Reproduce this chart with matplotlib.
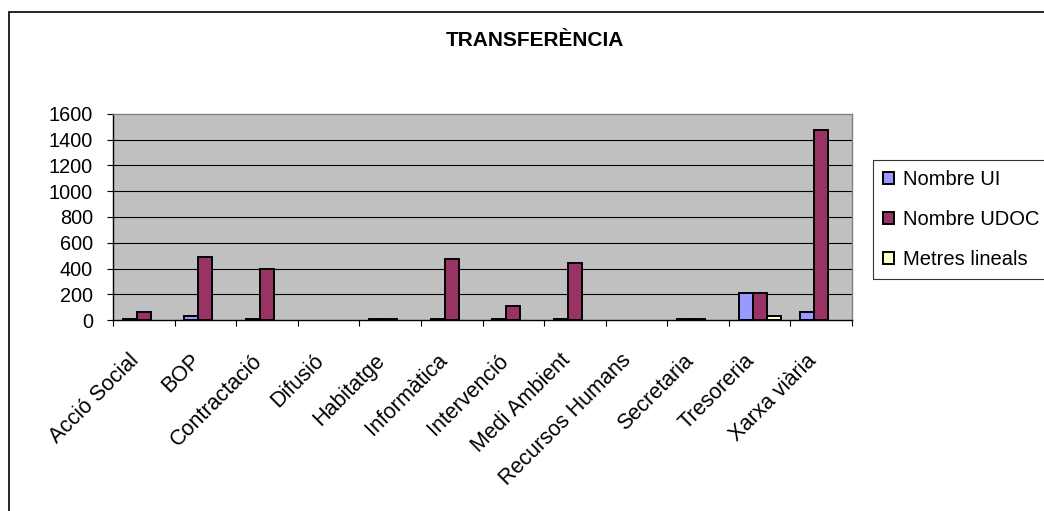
import numpy as np
import matplotlib
matplotlib.use("Agg")
import matplotlib.pyplot as plt
from matplotlib.patches import Rectangle
from matplotlib.transforms import ScaledTranslation

categories = ["Acció Social", "BOP", "Contractació", "Difusió", "Habitatge",
              "Informàtica", "Intervenció", "Medi Ambient", "Recursos Humans",
              "Secretaria", "Tresoreria", "Xarxa viària"]
nombre_ui = [5, 30, 5, 0, 5, 5, 5, 5, 0, 5, 212, 60]
nombre_udoc = [60, 490, 400, 0, 5, 475, 108, 445, 0, 5, 212, 1475]
metres_lineals = [0, 0, 0, 0, 0, 0, 0, 0, 0, 0, 30, 0]
series_names = ["Nombre UI", "Nombre UDOC", "Metres lineals"]
series_colors = ["#9999FF", "#993366", "#FFFFCC"]
yticks = [0, 200, 400, 600, 800, 1000, 1200, 1400, 1600]
title = "TRANSFERÈNCIA"

plt.rcParams['font.family'] = ['Liberation Sans', 'DejaVu Sans']

W, H = 1044, 511
fig = plt.figure(figsize=(W / 100, H / 100), dpi=100)
fig.patch.set_facecolor("white")

ax = fig.add_axes([113 / W, 1 - 320 / H, (852 - 113) / W, (320 - 114) / H])
ax.set_facecolor("#C0C0C0")

x = np.arange(len(categories))
bw = 0.227
for k, (vals, name, col) in enumerate(zip([nombre_ui, nombre_udoc, metres_lineals],
                                          series_names, series_colors)):
    v = np.array(vals, dtype=float)
    v = np.where(v > 0, v, np.nan)
    ax.bar(x + (k - 1) * bw, v, width=bw, color=col, edgecolor="black",
           linewidth=1.4, label=name, zorder=3)

ax.set_xlim(-0.5, len(categories) - 0.5)
ax.set_ylim(0, 1600)
ax.set_yticks(yticks)
ax.set_yticklabels([str(t) for t in yticks])
for t in yticks[1:-1]:
    ax.axhline(t, color="black", linewidth=0.8, zorder=1)

ax.spines["left"].set_color("black")
ax.spines["bottom"].set_color("black")
ax.spines["top"].set_color("#808080")
ax.spines["right"].set_color("#808080")
for s in ax.spines.values():
    s.set_linewidth(1.0)
    s.set_zorder(4)

ax.tick_params(axis="y", direction="out", length=4.5, width=0.8, pad=10,
               labelsize=14.3, colors="black")
ax.set_xticks(x)
ax.set_xticklabels(categories)
ax.set_xticks(np.arange(len(categories) + 1) - 0.5, minor=True)
ax.tick_params(axis="x", which="major", length=0, pad=27, labelsize=15.5)
ax.tick_params(axis="x", which="minor", direction="out", length=4.5, width=0.8)
offset = ScaledTranslation(-8 / 100, 0, fig.dpi_scale_trans)
for lab in ax.get_xticklabels():
    lab.set_rotation(45)
    lab.set_ha("right")
    lab.set_va("center")
    lab.set_rotation_mode("anchor")
    lab.set_transform(lab.get_transform() + offset)

fig.text(535 / W, 1 - 40.5 / H, title, ha="center", va="center",
         fontsize=15, fontweight="bold")

handles = [Rectangle((0, 0), 1, 1, facecolor=c, edgecolor="black", linewidth=1.4)
           for c in series_colors]
leg = fig.legend(handles, series_names, loc="upper left",
                 bbox_to_anchor=(873 / W, 1 - 160 / H),
                 bbox_transform=fig.transFigure,
                 fontsize=14.5, frameon=True, fancybox=False, shadow=False,
                 handlelength=0.55, handleheight=0.55, handletextpad=0.45,
                 labelspacing=1.05, borderpad=0.5, borderaxespad=0)
leg.get_frame().set_edgecolor("black")
leg.get_frame().set_linewidth(0.8)

frame = Rectangle((9 / W, -0.1), 1.2, 1.1 - 12 / H, transform=fig.transFigure,
                  fill=False, edgecolor="black", linewidth=1.2, zorder=0)
fig.patches.append(frame)

fig.savefig("out.png", dpi=100, facecolor="white")
